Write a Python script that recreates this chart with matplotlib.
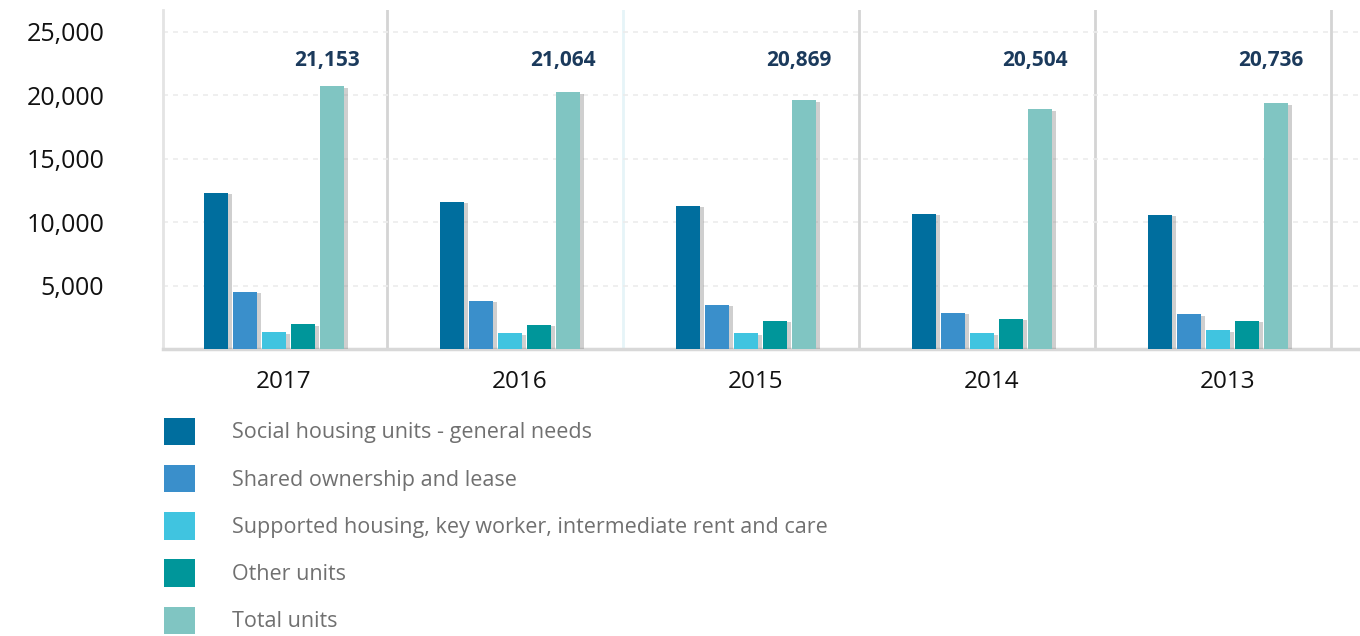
import matplotlib.pyplot as plt
import matplotlib.patheffects as pe
from matplotlib.patches import Patch
from matplotlib.ticker import FuncFormatter
import numpy as np

plt.rcParams['font.family'] = ['Open Sans', 'DejaVu Sans']

years = ['2017', '2016', '2015', '2014', '2013']
social = [12320, 11610, 11300, 10660, 10580]
shared = [4500, 3790, 3480, 2840, 2760]
supported = [1340, 1260, 1260, 1260, 1500]
other = [1970, 1900, 2210, 2370, 2210]
total = [20700, 20220, 19590, 18880, 19350]
total_labels = ['21,153', '21,064', '20,869', '20,504', '20,736']

series = [
    ('Social housing units - general needs', social, '#006e9e'),
    ('Shared ownership and lease', shared, '#3a8fcb'),
    ('Supported housing, key worker, intermediate rent and care', supported, '#40c4e0'),
    ('Other units', other, '#00969a'),
    ('Total units', total, '#80c5c2'),
]

fig = plt.figure(figsize=(13.6, 6.36), dpi=100)
ax = fig.add_axes([0.12, 0.451, 0.88, 0.533])

x = np.arange(len(years))
pitch = 0.123
width = 0.10
shift = -0.038
shadow = [pe.SimplePatchShadow(offset=(3, -1), shadow_rgbFace='#888888', alpha=0.4), pe.Normal()]
for k, (name, vals, col) in enumerate(series):
    ax.bar(x + (k - 2) * pitch + shift, vals, width, color=col, zorder=3, path_effects=shadow)

for i, lab in enumerate(total_labels):
    ax.text(x[i] + 0.186, 22700, lab, ha='center', va='center',
            fontsize=15, fontweight='bold', color='#1b3a5c')

# separators between groups
for i in range(len(years)):
    c = '#e6f4f8' if i == 1 else '#d4d4d4'
    ax.axvline(x[i] + 0.44, color=c, lw=2, zorder=1)

ax.set_xlim(-0.508, 4.563)
ax.set_ylim(0, 26700)
ax.set_yticks([5000, 10000, 15000, 20000, 25000])
ax.yaxis.set_major_formatter(FuncFormatter(lambda v, p: f'{int(v):,}'))
ax.set_xticks(x)
ax.set_xticklabels(years)
ax.tick_params(axis='both', length=0, colors='#111111')
ax.tick_params(axis='y', pad=42.5, labelsize=18)
ax.tick_params(axis='x', pad=15, labelsize=17.5)
ax.grid(axis='y', color='#ececec', lw=1.2, ls=(0, (3, 3)), zorder=0)

for sp in ['top', 'right']:
    ax.spines[sp].set_visible(False)
ax.spines['left'].set_color('#e4e4e4')
ax.spines['left'].set_linewidth(2)
ax.spines['bottom'].set_color('#d8d8d8')
ax.spines['bottom'].set_linewidth(2.5)

handles = [Patch(facecolor=col, edgecolor='none') for _, _, col in series]
labels = [name for name, _, _ in series]
fig.legend(handles, labels, loc='upper left', bbox_to_anchor=(0.106, 0.374),
           frameon=False, fontsize=15.5, labelcolor='#707070',
           handlelength=1.44, handleheight=1.6, handletextpad=1.72, labelspacing=0.91)

fig.savefig('out.png', dpi=100)
